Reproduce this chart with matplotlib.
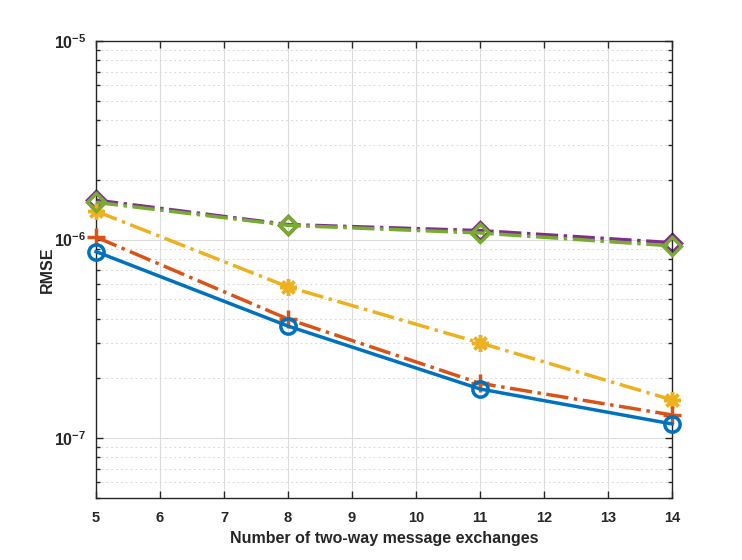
import matplotlib
matplotlib.use("Agg")
import matplotlib.pyplot as plt
from matplotlib.ticker import LogLocator, NullFormatter, FixedLocator, FuncFormatter
import numpy as np

plt.rcParams['font.family'] = ['Liberation Sans', 'DejaVu Sans']
plt.rcParams['mathtext.fontset'] = 'custom'
plt.rcParams['mathtext.rm'] = 'Liberation Sans:bold'
plt.rcParams['mathtext.bf'] = 'Liberation Sans:bold'
plt.rcParams['mathtext.default'] = 'bf'

x = [5, 8, 11, 14]
blue = [8.7e-7, 3.67e-7, 1.77e-7, 1.18e-7]
orange = [1.03e-6, 3.98e-7, 1.89e-7, 1.31e-7]
yellow = [1.39e-6, 5.78e-7, 3.02e-7, 1.56e-7]
purple = [1.58e-6, 1.19e-6, 1.11e-6, 9.65e-7]
green = [1.54e-6, 1.18e-6, 1.08e-6, 9.3e-7]
xticks = [5, 6, 7, 8, 9, 10, 11, 12, 13, 14]

fig = plt.figure(figsize=(7.42, 5.60), dpi=100)
ax = fig.add_axes([0.1294, 0.1107, 0.7763, 0.8161])

lw = 2.5
ax.plot(x, blue, color='#0072BD', linestyle='-', linewidth=lw, marker='o',
        markersize=11, markerfacecolor='none', markeredgewidth=lw, zorder=5, clip_on=False)
ax.plot(x, orange, color='#D95319', linestyle='-.', linewidth=lw, marker='+',
        markersize=13, markeredgewidth=lw, zorder=4, clip_on=False)
ax.plot(x, yellow, color='#EDB120', linestyle='-.', linewidth=lw, marker=(8, 2, 0),
        markersize=12, markeredgewidth=2.5, zorder=3, clip_on=False)
ax.plot(x, purple, color='#7E2F8E', linestyle='-.', linewidth=lw, marker='D',
        markersize=9, markerfacecolor='none', markeredgewidth=lw, zorder=2, clip_on=False)
ax.plot(x, green, color='#77AC30', linestyle='-.', linewidth=lw, marker='D',
        markersize=9, markerfacecolor='none', markeredgewidth=lw, zorder=3, clip_on=False)

ax.set_yscale('log')
ax.set_xlim(5, 14)
ax.set_ylim(5e-8, 1e-5)
ax.xaxis.set_major_locator(FixedLocator(xticks))
ax.yaxis.set_major_locator(LogLocator(base=10, numticks=10))
ax.yaxis.set_minor_locator(LogLocator(base=10, subs=range(2, 10), numticks=20))
ax.yaxis.set_minor_formatter(NullFormatter())
ax.yaxis.set_major_formatter(FuncFormatter(
    lambda v, p: '$\\mathbf{10^{%d}}$' % int(round(np.log10(v)))))

ax.grid(True, which='major', color='#dcdcdc', linestyle='-', linewidth=0.8)
ax.grid(True, which='minor', axis='y', color='#d9d9d9', linestyle=(0, (2, 3)), linewidth=0.7)
ax.set_axisbelow(True)

ax.tick_params(which='both', direction='in', top=True, right=True,
               labelsize=10.5, width=1, colors='#262626')
ax.tick_params(which='major', length=5)
ax.tick_params(which='minor', length=3)
ax.tick_params(axis='x', pad=9)
ax.tick_params(axis='y', pad=7, labelsize=11.5)
for lab in ax.get_xticklabels() + ax.get_yticklabels():
    lab.set_fontweight('bold')
for sp in ax.spines.values():
    sp.set_linewidth(1.0)
    sp.set_color('#262626')

ax.set_xlabel('Number of two-way message exchanges', fontsize=11.5, fontweight='bold',
              color='#262626', labelpad=5)
ax.set_ylabel('RMSE', fontsize=11.5, fontweight='bold', color='#262626')
ax.yaxis.set_label_coords(-0.072, 0.5)

fig.savefig('out.png', dpi=100)
